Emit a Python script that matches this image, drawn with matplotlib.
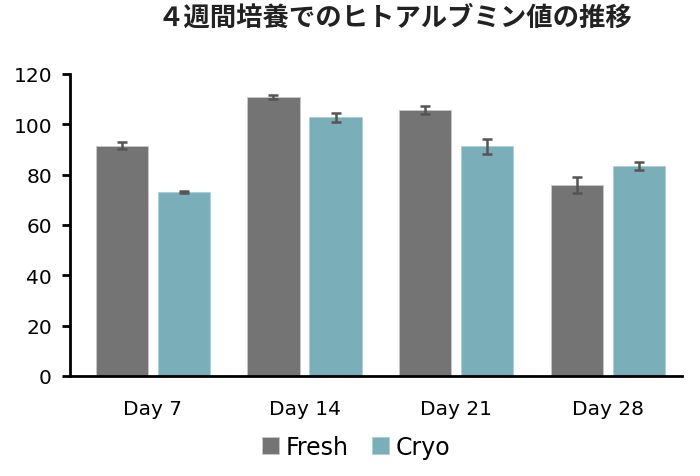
import matplotlib.pyplot as plt
import numpy as np

days = ['Day 7', 'Day 14', 'Day 21', 'Day 28']
fresh = [91.5, 111.0, 105.7, 75.8]
fresh_err = [1.5, 0.8, 1.6, 3.3]
cryo = [73.0, 102.8, 91.3, 83.3]
cryo_err = [0.5, 1.8, 3.0, 1.5]

plt.rcParams['font.family'] = ['DejaVu Sans', 'Noto Sans CJK JP']

fig = plt.figure(figsize=(7, 4.77), dpi=100)
ax = fig.add_axes([0.1, 0.21, 0.874, 0.633])

x = np.arange(len(days))
w = 0.345
off = 0.205
ebar = dict(ecolor='#555555', elinewidth=1.8, capsize=3.5, capthick=1.8)
ax.bar(x - off, fresh, w, yerr=fresh_err, color='#737473', edgecolor='#c8c8c8',
       linewidth=0.6, error_kw=ebar, label='Fresh')
ax.bar(x + off, cryo, w, yerr=cryo_err, color='#7aaeb8', edgecolor='#a8d0d8',
       linewidth=0.6, error_kw=ebar, label='Cryo')

ax.set_xlim(-0.546, 3.487)
ax.set_ylim(0, 120)
ax.set_yticks(range(0, 121, 20))
ax.set_xticks(x)
ax.set_xticklabels(days)
ax.tick_params(axis='y', labelsize=14.5, width=2, length=6, direction='out', pad=7)
ax.tick_params(axis='x', labelsize=14.5, length=0, pad=17)
for s in ['top', 'right']:
    ax.spines[s].set_visible(False)
ax.spines['left'].set_linewidth(2)
ax.spines['bottom'].set_linewidth(2)

ax.legend(loc='upper center', bbox_to_anchor=(0.468, -0.125), ncol=2, frameon=False,
          fontsize=17, handlelength=0.7, handleheight=0.7, handletextpad=0.3,
          columnspacing=1.0)

fig.text(0.564, 0.962, '４週間培養でのヒトアルブミン値の推移', ha='center', va='center',
         fontsize=19, fontweight='bold', family=['Noto Sans CJK JP', 'DejaVu Sans'],
         color='#222222')

fig.savefig('out.png', dpi=100)
